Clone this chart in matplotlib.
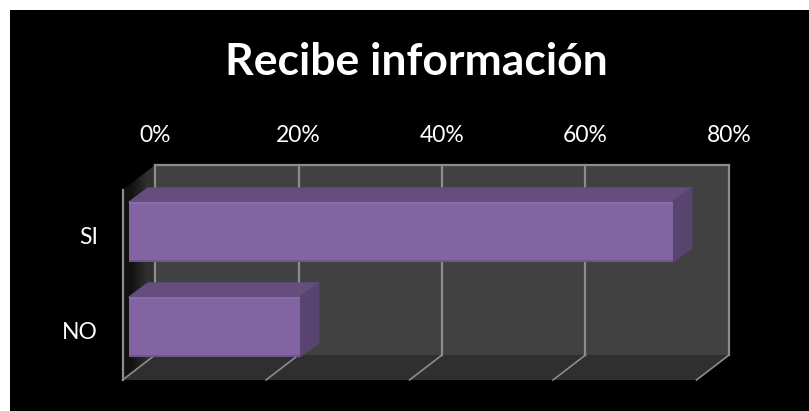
import numpy as np
import matplotlib
matplotlib.use("Agg")
from matplotlib import pyplot as plt
from matplotlib.patches import Polygon, Rectangle

categories = ["NO", "SI"]
values = [23.8, 75.8]
ticks = [0, 20, 40, 60, 80]
tick_labels = ["0%", "20%", "40%", "60%", "80%"]
title = "Recibe información"

W, H = 809, 411
# box of the 3d look, in pixels of the figure
x_left, x_right = 122.5, 730
y_top, y_bottom = 165, 380
px_per_pct = 143.5 / 20
px_per_cat = 95.0
depth_x = 32.5 / px_per_pct
depth_y = 25 / px_per_cat
y_no = 327

plt.rcParams['font.family'] = ['Lato', 'DejaVu Sans']
fig = plt.figure(figsize=(W / 100, H / 100), dpi=100, facecolor="white")
fig.add_artist(Rectangle((10 / W, 0), (W - 10) / W, (H - 10) / H, transform=fig.transFigure,
                         facecolor="black", edgecolor="none", zorder=-1))

ax = fig.add_axes([x_left / W, 1 - y_bottom / H, (x_right - x_left) / W, (y_bottom - y_top) / H])
ax.set_xlim(0, (x_right - x_left) / px_per_pct)
ax.set_ylim(-(y_bottom - y_no) / px_per_cat, (y_no - y_top) / px_per_cat)
ax.axis("off")

x_max = 80
y0, y_lim1 = ax.get_ylim()
x_lim1 = ax.get_xlim()[1]
y1 = y0 + (y_bottom - y_top - 25) / px_per_cat  # top of front plane

# walls
ax.add_patch(Polygon([(depth_x, y0 + depth_y), (x_max + depth_x, y0 + depth_y),
                      (x_max + depth_x, y1 + depth_y), (depth_x, y1 + depth_y)],
                     facecolor="#414141", edgecolor="none", zorder=1))
ax.add_patch(Polygon([(0, y0), (x_max, y0), (x_max + depth_x, y0 + depth_y), (depth_x, y0 + depth_y)],
                     facecolor="#2f2f2f", edgecolor="none", zorder=1))
# left wall, dark to the front
grad = np.array([[0.07, 0.19]])
im = ax.imshow(grad, cmap="gray", vmin=0, vmax=1, extent=[0, depth_x, y0, y1 + depth_y],
               aspect="auto", interpolation="bilinear", zorder=1)
im.set_clip_path(Polygon([(0, y0), (depth_x, y0 + depth_y), (depth_x, y1 + depth_y), (0, y1)],
                         transform=ax.transData))
ax.set_xlim(0, x_lim1)
ax.set_ylim(y0, y_lim1)

# grid
grid_c = "#8c8c8c"
for t in ticks:
    ax.plot([t + depth_x, t + depth_x], [y0 + depth_y, y1 + depth_y], color=grid_c, lw=1.6, zorder=2, clip_on=False)
    ax.plot([t, t + depth_x], [y0, y0 + depth_y], color=grid_c, lw=1.2, zorder=2, clip_on=False)
ax.plot([depth_x, x_max + depth_x], [y1 + depth_y] * 2, color=grid_c, lw=1.6, zorder=2, clip_on=False)
ax.plot([0, 0], [y0, y1], color=grid_c, lw=1.6, zorder=2, clip_on=False)

# bars
y_pos = np.arange(len(categories))
bar_h = 60 / px_per_cat
bar_x0 = 6.5 / px_per_pct
bar_dx = 19 / px_per_pct
bar_dy = 14 / px_per_cat
for y, v in zip(y_pos, values):
    top = y + bar_h / 2
    bot = y - bar_h / 2
    ax.add_patch(Polygon([(bar_x0, top), (bar_x0 + v, top), (bar_x0 + v + bar_dx, top + bar_dy), (bar_x0 + bar_dx, top + bar_dy)],
                         facecolor="#654d7d", edgecolor="#654d7d", lw=1, joinstyle="round", zorder=3))
    ax.add_patch(Polygon([(bar_x0 + v, bot), (bar_x0 + v + bar_dx, bot + bar_dy), (bar_x0 + v + bar_dx, top + bar_dy), (bar_x0 + v, top)],
                         facecolor="#57446f", edgecolor="#57446f", lw=1, joinstyle="round", zorder=3))
ax.barh(y_pos, values, height=bar_h, left=bar_x0, color="#8364a3", edgecolor="none", zorder=4)
ax.barh(y_pos + bar_h / 2 - 0.012, values, height=0.024, left=bar_x0, color="#8b6bab", edgecolor="none", zorder=5)
ax.barh(y_pos - bar_h / 2 + 0.008, values, height=0.016, left=bar_x0, color="#705690", edgecolor="none", zorder=5)

# text
for t, lab in zip(ticks, tick_labels):
    ax.text(t + depth_x, y1 + depth_y + 29 / px_per_cat, lab, color="white", fontsize=16.5,
            ha="center", va="center", zorder=6, clip_on=False)
for y, lab in zip(y_pos, categories):
    ax.text(-24.5 / px_per_pct, y - 5.5 / px_per_cat, lab, color="white", fontsize=16.5,
            ha="right", va="center", zorder=6, clip_on=False)
fig.text(416 / W, 1 - 62 / H, title, color="white", fontsize=32, fontweight="bold", ha="center", va="center")

fig.savefig("out.png", dpi=100, facecolor="white")
